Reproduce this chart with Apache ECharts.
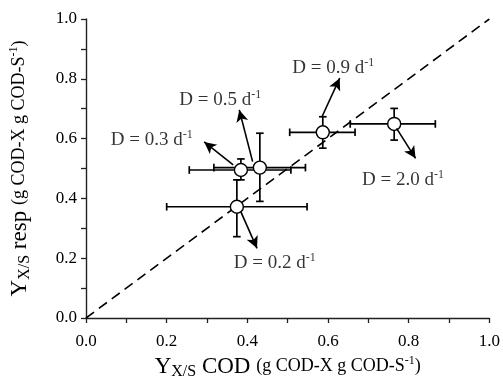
<!DOCTYPE html>
<html><head><meta charset="utf-8">
<script src="https://cdn.jsdelivr.net/npm/echarts@6/dist/echarts.min.js"></script>
<style>html,body{margin:0;padding:0;background:#fff}#c{width:503px;height:388px}</style>
</head><body><div id="c"></div>
<script>
// dilution rates (d-1)
const rates = ['0.2', '0.3', '0.5', '0.9', '2.0'];
// Y_X/S from COD balance (x) and from respirometry (y)
const yCOD  = [0.374, 0.384, 0.431, 0.587, 0.764];
const yResp = [0.372, 0.495, 0.503, 0.621, 0.649];
// error bar limits
const yCODLow   = [0.200, 0.256, 0.317, 0.505, 0.655];
const yCODHigh  = [0.548, 0.508, 0.544, 0.667, 0.866];
const yRespLow  = [0.272, 0.462, 0.390, 0.568, 0.595];
const yRespHigh = [0.462, 0.532, 0.618, 0.673, 0.701];
// annotation arrows (data units): tail and head, and label centres
const arrowTail = [[0.384, 0.355], [0.365, 0.512], [0.413, 0.523], [0.585, 0.673], [0.770, 0.634]];
const arrowHead = [[0.424, 0.233], [0.293, 0.589], [0.380, 0.696], [0.629, 0.802], [0.817, 0.534]];
const labelAt   = [[0.468, 0.184], [0.163, 0.595], [0.333, 0.729], [0.613, 0.836], [0.786, 0.462]];
// 1:1 reference line
const identityLine = [[0, 0], [1, 1]];
// axes
const axisMin = 0, axisMax = 1, axisStep = 0.2;

const FONT = 'Liberation Serif';
const TXT = '#000';
const chart = echarts.init(document.getElementById('c'));

const errData = rates.map((r, i) => [yCOD[i], yResp[i], yCODLow[i], yCODHigh[i], yRespLow[i], yRespHigh[i]]);
const ptData = rates.map((r, i) => [yCOD[i], yResp[i]]);
const lblData = rates.map((r, i) => ({ value: labelAt[i], rate: r }));
const arrowData = rates.map((r, i) => [{ coord: arrowTail[i] }, { coord: arrowHead[i] }]);

const axisCommon = {
  type: 'value', min: axisMin, max: axisMax, interval: axisStep,
  axisLine: { show: true, lineStyle: { color: '#222', width: 1.4 } },
  axisTick: { show: true, inside: false, length: 5, lineStyle: { color: '#222', width: 1.3 } },
  minorTick: { show: true, splitNumber: 2, length: 5, lineStyle: { color: '#222', width: 1.3 } },
  splitLine: { show: false },
  axisLabel: { fontFamily: FONT, fontSize: 17, color: TXT, formatter: v => v.toFixed(1) },
  nameLocation: 'middle',
  nameTextStyle: {
    fontFamily: FONT, color: TXT,
    rich: {
      big: { fontFamily: FONT, fontSize: 23, color: TXT },
      sub: { fontFamily: FONT, fontSize: 16, color: TXT, padding: [11, 0, 0, 0] },
      par: { fontFamily: FONT, fontSize: 18, color: TXT },
      sup: { fontFamily: FONT, fontSize: 12, color: TXT, padding: [0, 0, 11, 0] }
    }
  }
};

const option = {
  animation: false,
  backgroundColor: '#fff',
  grid: { left: 84, right: 12, top: 19, bottom: 70 },
  xAxis: Object.assign({}, axisCommon, {
    name: '{big|Y}{sub|X/S}{big| COD }{par|(g COD-X g COD-S}{sup|-1}{par|)}',
    nameGap: 35,
    axisLabel: Object.assign({}, axisCommon.axisLabel, { margin: 15 })
  }),
  yAxis: Object.assign({}, axisCommon, {
    name: '{big|Y}{sub|X/S}{big| resp }{par|(g COD-X g COD-S}{sup|-1}{par|)}',
    nameGap: 53,
    axisLabel: Object.assign({}, axisCommon.axisLabel, { margin: 9 })
  }),
  series: [
    {
      type: 'line', data: identityLine, symbol: 'none', silent: true, z: 1,
      lineStyle: { color: '#000', width: 1.6, type: [10, 6] }
    },
    {
      type: 'custom', data: errData, z: 2, clip: false,
      renderItem: function (params, api) {
        const x = api.value(0), y = api.value(1);
        const pL = api.coord([api.value(2), y]), pR = api.coord([api.value(3), y]);
        const pB = api.coord([x, api.value(4)]), pT = api.coord([x, api.value(5)]);
        const c = 3.8;
        const st = { stroke: '#000', lineWidth: 1.7 };
        const ln = (x1, y1, x2, y2) => ({ type: 'line', shape: { x1, y1, x2, y2 }, style: st });
        return {
          type: 'group', children: [
            ln(pL[0], pL[1], pR[0], pR[1]),
            ln(pL[0], pL[1] - c, pL[0], pL[1] + c),
            ln(pR[0], pR[1] - c, pR[0], pR[1] + c),
            ln(pB[0], pB[1], pT[0], pT[1]),
            ln(pB[0] - c, pB[1], pB[0] + c, pB[1]),
            ln(pT[0] - c, pT[1], pT[0] + c, pT[1])
          ]
        };
      }
    },
    {
      type: 'scatter', data: ptData, z: 3, symbol: 'circle', symbolSize: 13,
      itemStyle: { color: '#fff', borderColor: '#000', borderWidth: 1.4, opacity: 1 }
    },
    {
      type: 'scatter', data: lblData, z: 4, symbolSize: 0, silent: true,
      label: {
        show: true, position: 'inside', color: TXT,
        formatter: p => '{t|D = ' + p.data.rate + ' d}{s|-1}',
        rich: {
          t: { fontFamily: FONT, fontSize: 19, color: TXT },
          s: { fontFamily: FONT, fontSize: 12, color: TXT, padding: [0, 0, 10, 0] }
        }
      },
      markLine: {
        silent: true, symbol: ['none', 'arrow'], symbolSize: [9, 12],
        label: { show: false },
        lineStyle: { color: '#000', width: 1.6, type: 'solid' },
        data: arrowData, animation: false
      }
    }
  ]
};
chart.setOption(option);
</script></body></html>
